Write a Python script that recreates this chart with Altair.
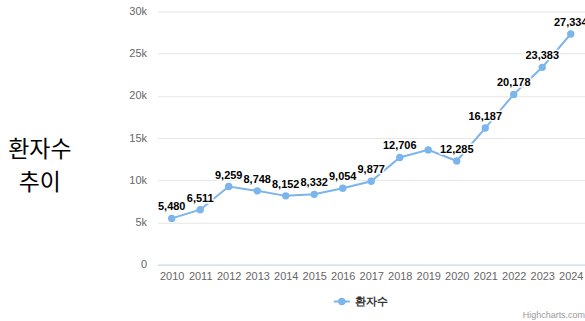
import altair as alt
import pandas as pd

years = ["2010", "2011", "2012", "2013", "2014", "2015", "2016", "2017",
         "2018", "2019", "2020", "2021", "2022", "2023", "2024"]
patients = [5480, 6511, 9259, 8748, 8152, 8332, 9054, 9877,
            12706, 13600, 12285, 16187, 20178, 23383, 27334]
show_label = [True] * 9 + [False] + [True] * 5
title_lines = ["환자수", "추이"]
series_name = ["환자수"]
credit_text = ["Highcharts.com"]

df = pd.DataFrame({"year": years, "value": patients, "show": show_label})
df["label"] = [f"{v:,}" if s else "" for v, s in zip(patients, show_label)]

W, H = 429, 254
LEFT, TOP = 158, 11
COLOR = "#7cb5ec"
FONT = "Liberation Sans"

x = alt.X("year:O", scale=alt.Scale(type="point", padding=0.5),
          axis=alt.Axis(title=None, labelAngle=0, labelColor="#666666", labelFontSize=11,
                        labelFont=FONT, labelPadding=6, labelBaseline="top",
                        domainColor="#ccd6eb", ticks=False, grid=False))
y = alt.Y("value:Q", scale=alt.Scale(domain=[0, 30000], nice=False),
          axis=alt.Axis(title=None, values=[0, 5000, 10000, 15000, 20000, 25000, 30000],
                        labelExpr="datum.value == 0 ? '0' : (datum.value / 1000) + 'k'",
                        labelColor="#666666", labelFontSize=11, labelFont=FONT,
                        labelPadding=11, ticks=False, domain=False,
                        gridColor="#e6e6e6", gridWidth=1))

base = alt.Chart(df)
line = base.mark_line(color=COLOR, strokeWidth=2).encode(x=x, y=y)
pts = base.mark_point(filled=True, color=COLOR, size=55, opacity=1).encode(x=x, y=y)
lab_outline = base.mark_text(font=FONT, fontSize=11, fontWeight="bold", dy=-11,
                             baseline="middle", stroke="white", strokeWidth=3,
                             strokeJoin="round", fill="white").encode(x=x, y=y, text="label:N")
lab = base.mark_text(font=FONT, fontSize=11, fontWeight="bold", dy=-11,
                     baseline="middle", color="#000000").encode(x=x, y=y, text="label:N")

title_df = pd.DataFrame({"t": title_lines})
title1 = alt.Chart(title_df.iloc[[0]]).mark_text(
    font="Noto Sans CJK KR", fontSize=23, color="#000000", align="center",
    baseline="middle").encode(x=alt.value(40 - LEFT), y=alt.value(150 - TOP), text="t:N")
title2 = alt.Chart(title_df.iloc[[1]]).mark_text(
    font="Noto Sans CJK KR", fontSize=23, color="#000000", align="center",
    baseline="middle").encode(x=alt.value(40 - LEFT), y=alt.value(183 - TOP), text="t:N")

legend_df = pd.DataFrame({"name": series_name})
leg_line = alt.Chart(legend_df).mark_rule(color=COLOR, strokeWidth=2).encode(
    x=alt.value(335 - LEFT), x2=alt.value(351 - LEFT), y=alt.value(302 - TOP))
leg_pt = alt.Chart(legend_df).mark_point(filled=True, color=COLOR, size=55, opacity=1).encode(
    x=alt.value(343 - LEFT), y=alt.value(302 - TOP))
leg_txt = alt.Chart(legend_df).mark_text(font=FONT, fontSize=11, fontWeight="bold",
                                         color="#333333", align="left",
                                         baseline="middle").encode(
    x=alt.value(356 - LEFT), y=alt.value(302 - TOP), text="name:N")

credit_df = pd.DataFrame({"c": credit_text})
credit = alt.Chart(credit_df).mark_text(font=FONT, fontSize=9, color="#999999",
                                        align="right", baseline="middle").encode(
    x=alt.value(585 - LEFT + 2), y=alt.value(316 - TOP), text="c:N")

chart = alt.layer(line, pts, lab_outline, lab, title1, title2,
                  leg_line, leg_pt, leg_txt, credit).properties(
    width=W, height=H,
    autosize=alt.AutoSizeParams(type="none"),
    padding={"left": LEFT, "top": TOP, "right": 0, "bottom": 321 - TOP - H},
    background="white",
).configure_view(stroke=None)

chart.save("out.html", embed_options={"renderer": "svg", "actions": False})
